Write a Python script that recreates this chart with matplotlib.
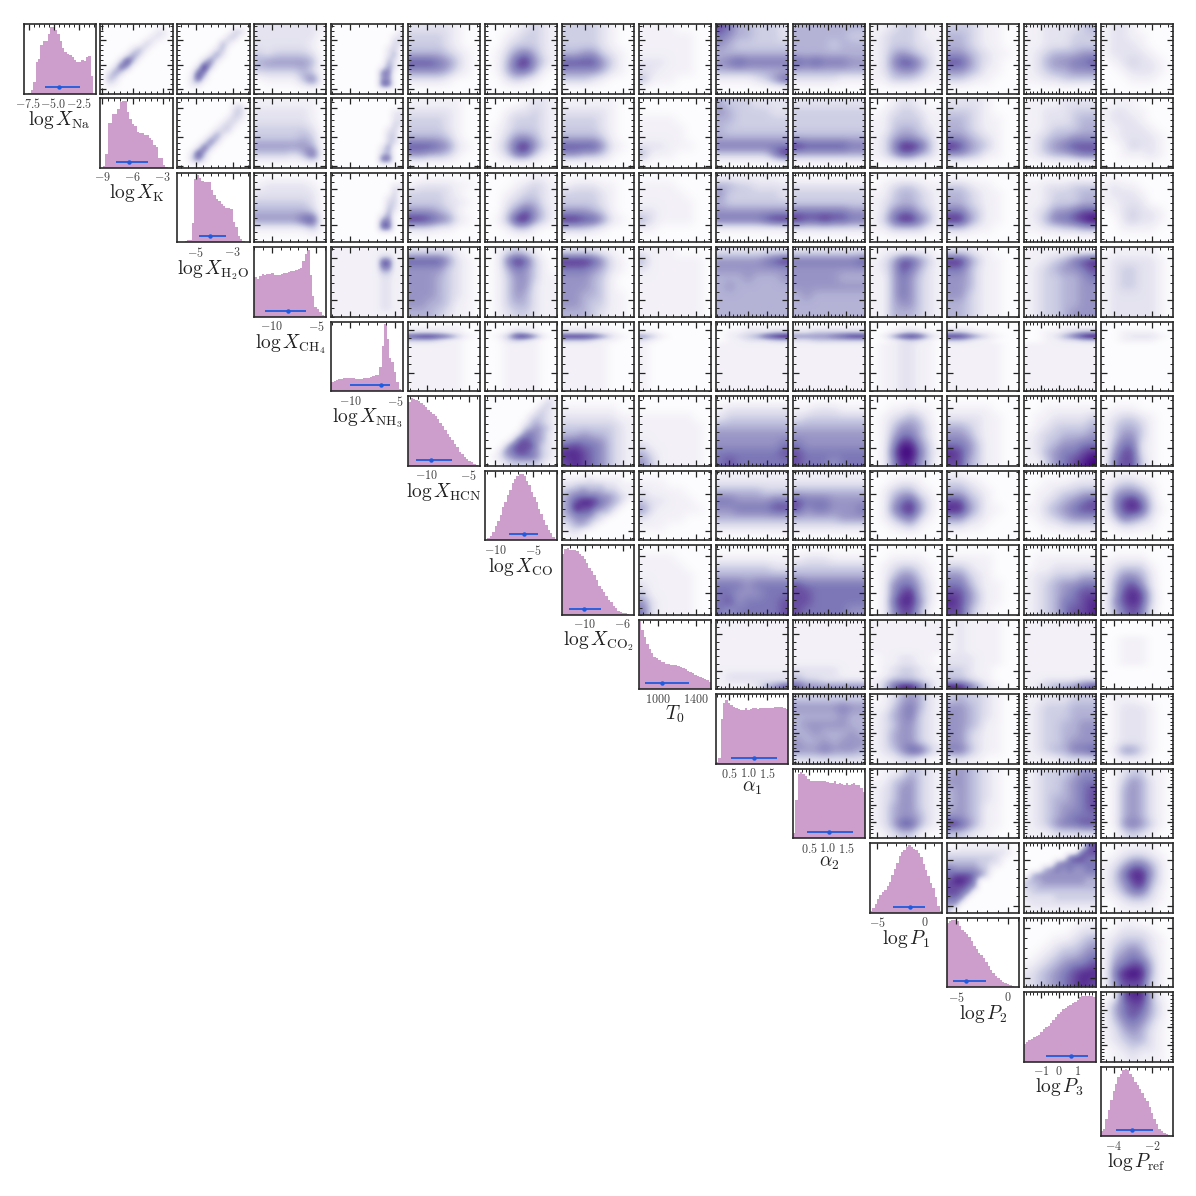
import numpy as np
import matplotlib
matplotlib.use("Agg")
import matplotlib.pyplot as plt
from matplotlib.ticker import AutoMinorLocator

plt.rcParams["mathtext.fontset"] = "cm"
plt.rcParams["font.family"] = "serif"

# === parameters ===
labels = [r"$\log X_{\rm Na}$", r"$\log X_{\rm K}$", r"$\log X_{\rm H_2O}$", r"$\log X_{\rm CH_4}$",
          r"$\log X_{\rm NH_3}$", r"$\log X_{\rm HCN}$", r"$\log X_{\rm CO}$", r"$\log X_{\rm CO_2}$",
          r"$T_0$", r"$\alpha_1$", r"$\alpha_2$", r"$\log P_1$", r"$\log P_2$", r"$\log P_3$",
          r"$\log P_{\rm ref}$"]
limits = [(-8.0, -0.8), (-9.2, -2.0), (-6.0, -2.1), (-12.0, -3.8), (-12.1, -4.1), (-12.2, -3.6),
          (-11.3, -1.9), (-12.4, -4.8), (800, 1560), (0.16, 2.04), (0.05, 2.02), (-5.8, 1.84),
          (-5.94, 1.06), (-1.93, 1.98), (-4.67, -0.96)]
ticks = [[-7.5, -5.0, -2.5], [-9, -6, -3], [-5, -3], [-10, -5], [-10, -5], [-10, -5], [-10, -5], [-10, -6],
         [1000, 1400], [0.5, 1.0, 1.5], [0.5, 1.0, 1.5], [-5, 0], [-5, 0], [-1, 0, 1], [-4, -2]]
tick_text = [["-7.5", "-5.0", "-2.5"], ["-9", "-6", "-3"], ["-5", "-3"], ["-10", "-5"], ["-10", "-5"],
             ["-10", "-5"], ["-10", "-5"], ["-10", "-6"], ["1000", "1400"], ["0.5", "1.0", "1.5"],
             ["0.5", "1.0", "1.5"], ["-5", "0"], ["-5", "0"], ["-1", "0", "1"], ["-4", "-2"]]

# 16th percentile, median, 84th percentile
ci_low = [-5.83, -7.67, -4.82, -10.75, -10.06, -11.3, -8.13, -11.66, 865, 0.55, 0.43, -3.37, -5.33, -0.69, -3.85]
ci_med = [-4.47, -6.4, -4.21, -8.2, -6.55, -9.44, -6.2, -10.08, 1047, 1.15, 1.04, -1.57, -4.04, 0.62, -3.03]
ci_high = [-2.4, -4.5, -3.36, -6.1, -5.55, -7.0, -4.47, -8.26, 1327, 1.75, 1.69, 0.08, -2.17, 1.58, -1.95]

# === histograms on the diagonal (height as fraction of the panel) ===
hist_na = [0, 0, .01, .05, .16, .45, .5, .7, .76, .76, .85, .95, .96, .92, .85, .75, .66, .6, .57, .55, .52, .48, .46, .46, .48, .47, .52, .54, .25, 0]
hist_k = [0, .03, .2, .65, .65, .78, .78, .85, .95, .97, .97, .8, .7, .63, .6, .52, .5, .5, .48, .47, .43, .4, .33, .3, .15, .15, .05, .01, 0, 0]
hist_h2o = [0, 0, 0, .02, .03, .03, .28, .92, .97, .93, .88, .87, .87, .87, .75, .68, .63, .6, .55, .53, .5, .5, .48, .3, .22, .1, .05, .02, 0, 0]
hist_ch4 = [.57, .55, .59, .62, .6, .62, .62, .63, .6, .61, .6, .62, .63, .63, .65, .66, .66, .68, .69, .7, .8, .9, .97, .6, .3, .15, .12, .07, .03, .01]
hist_nh3 = [.13, .15, .17, .18, .18, .19, .19, .19, .19, .19, .18, .18, .18, .19, .2, .2, .21, .22, .23, .24, .35, .65, .97, .75, .48, .42, .28, .14, .03, 0]
hist_hcn = [.92, .97, .96, .95, .93, .9, .88, .85, .8, .78, .75, .72, .68, .62, .58, .52, .46, .42, .37, .32, .27, .2, .17, .13, .1, .07, .05, .03, .01, 0]
hist_co = [.01, .03, .07, .12, .2, .28, .37, .48, .55, .65, .72, .82, .88, .93, .96, .95, .93, .85, .8, .7, .62, .55, .45, .38, .3, .22, .15, .1, .05, .02]
hist_co2 = [.88, .95, .96, .94, .94, .93, .92, .88, .85, .8, .75, .68, .63, .57, .5, .42, .37, .33, .27, .22, .18, .13, .1, .06, .04, .03, .02, .01, 0, 0]
hist_t0 = [.98, .85, .75, .65, .58, .52, .47, .45, .42, .4, .39, .37, .36, .35, .35, .35, .34, .32, .3, .29, .27, .25, .23, .21, .19, .18, .16, .15, .13, .1]
hist_a1 = [.03, .08, .65, .88, .92, .88, .84, .82, .8, .79, .78, .78, .8, .78, .79, .8, .8, .79, .8, .8, .81, .8, .8, .8, .82, .82, .82, .82, .81, .79]
hist_a2 = [.08, .55, .92, .95, .93, .9, .85, .82, .82, .83, .82, .82, .82, .82, .81, .8, .8, .82, .78, .8, .78, .76, .8, .76, .78, .79, .76, .76, .72, .66]
hist_p1 = [.03, .07, .13, .2, .25, .3, .33, .38, .45, .55, .63, .72, .82, .87, .9, .95, .97, .95, .92, .9, .86, .8, .7, .62, .53, .43, .35, .22, .1, .03]
hist_p2 = [.92, .96, .97, .97, .95, .88, .82, .8, .77, .72, .67, .6, .55, .5, .46, .42, .36, .3, .25, .2, .16, .13, .1, .08, .06, .04, .03, .02, .01, 0]
hist_p3 = [.25, .28, .31, .33, .36, .37, .39, .43, .47, .5, .52, .56, .6, .64, .68, .72, .76, .78, .8, .82, .85, .86, .89, .93, .95, .95, .95, .95, .94, .93]
hist_pref = [.08, .1, .25, .38, .52, .65, .75, .85, .9, .95, .97, .95, .9, .85, .78, .73, .68, .62, .55, .5, .42, .33, .25, .18, .11, .07, .05, .03, .02, .01]
hists = [hist_na, hist_k, hist_h2o, hist_ch4, hist_nh3, hist_hcn, hist_co, hist_co2, hist_t0, hist_a1, hist_a2,
         hist_p1, hist_p2, hist_p3, hist_pref]

# === 2d densities, digit 0-9, rows top to bottom, one dict per figure row, key = column ===
row_na = {
    1: "000000000000 000000000220 000000002210 000000032000 000002420000 000025300000 000384000000 002750000000 025300000000 043000000000 021000000000 000000000000",
    2: "000000000000 000000000330 000000003300 000000042000 000000240000 000002520000 000036200000 000294000000 001760000000 002820000000 002200000000 000000000000",
    3: "22222221 22222220 22222210 32333320 45555540 33333420 01111470 00000000",
    4: "000000000000 000000000002 000000000022 000000000032 000000000230 000000000240 000000000420 000000001520 000000006600 000000005500 000000007700 000000000000",
    5: "22222100 33332100 33332100 44443210 77765310 55554210 22221000 00000000",
    6: "00012321 00123321 00233321 01356421 01478531 01466410 00232100 00000000",
    7: "33332100 33332100 33332100 44553210 77775310 55554210 33321000 00000000",
    8: "11110000 11111100 11111100 11111100 22211100 22111100 41110000 00000000",
    9: "76443332 65443332 54333333 44444444 56766666 44444444 11112357 00000000",
    10: "44444444 44444433 44443444 44444444 76766655 44444444 22222111 00000000",
    11: "11233211 12333211 12333221 12454321 12577531 12455421 11333211 00000000",
    12: "33321100 44321100 44321100 55432110 77532100 55431100 33211000 00000000",
    13: "11222234 11222333 11222333 12344455 12455667 12344555 11223333 00000000",
    14: "12210000 12211000 12221000 12222100 01232210 00122210 00011100 00000000",
}
row_k = {
    2: "000000000000 000000000230 000000000330 000000002320 000000023200 000000233000 000002520000 000026300000 000273000000 002840000000 003620000000 000000000000",
    3: "11111110 22222210 22222210 33333320 33333430 55555540 33332480 00000000",
    4: "000000000000 000000000000 000000000022 000000000022 000000000032 000000000230 000000000330 000000000330 000000002500 000000003400 000000007700 000000000000",
    5: "11111100 22222100 33332100 33332100 44443100 77765210 55443100 00000000",
    6: "00001221 00122321 00233321 01233321 01355421 02478531 01366310 00000000",
    7: "11111100 22222100 33332100 33332100 44443100 77775210 55443100 00000000",
    8: "00000000 00000000 11110000 11111000 11111000 22211100 41110000 00000000",
    9: "43332222 54333322 44333333 43333333 44444444 66666666 33333368 00000000",
    10: "22222222 33333333 33333333 33333333 44444444 87777766 44444444 00000000",
    11: "00122100 01233211 11333311 11344321 12455431 12588741 12466431 00000000",
    12: "22221000 33321000 44321100 44321100 55432100 87543100 55431100 00000000",
    13: "11112222 11222333 11222344 11233344 12344555 12456777 12344566 00000000",
    14: "01110000 12211000 12221000 11222100 01222210 00132210 00111210 00000000",
}
row_h2o = {
    3: "00000000 12222210 22222220 33333320 44444430 55555780 11111130 00000000",
    4: "000000000000 000000000000 000000000022 000000000030 000000000230 000000000330 000000000420 000000002500 000000006600 000000007700 000000000000 000000000000",
    5: "00000000 12222110 33332100 33332210 55543100 88765210 22211000 00000000",
    6: "00000110 00012321 00123321 00234421 00357531 01488531 00133100 00000000",
    7: "00000000 12221100 33332100 33332100 55543100 88775210 33321000 00000000",
    8: "00000000 11110000 11111000 11111100 22111100 42111100 11000000 00000000",
    9: "11111110 44332222 53333332 43333333 55555555 66666788 11111111 00000000",
    10: "00000000 22222222 33333333 33333333 66666655 87787766 22222222 00000000",
    11: "00000000 01233211 11344321 12344321 12566431 13688641 11333311 00000000",
    12: "00000000 33211000 44321100 44321100 66431100 88531100 33211000 00000000",
    13: "00000000 11222333 11233344 11233344 12355677 12466789 11223344 00000000",
    14: "00000000 12110000 12221000 11222000 01232210 00232210 00111100 00000000",
}
row_ch4 = {
    4: "111111111111 111111112211 111111117711 111111116611 111111113311 111111112211 111111112211 111111112211 111111112211 111111112211 111111112211 111111111111",
    5: "22222100 77775210 55553210 55543210 55543210 55543210 55443110 44432110",
    6: "01232100 01687310 01465310 01355311 01355211 01354211 01344211 01233211",
    7: "22221100 88875210 66654210 55543100 55543100 55443110 55433110 44432110",
    8: "11110000 41111110 21111110 11111110 11111110 11111110 11111110 11111110",
    9: "22222222 55555678 55555555 44454445 45444444 44444444 44444444 44444444",
    10: "22222222 66666667 55555555 55555444 55555555 45444444 44444444 44444444",
    11: "01111110 12477531 12476421 11465321 11465321 11465321 11455321 11444321",
    12: "22211000 88531100 66421100 55421100 55421100 55321100 44321100 44321100",
    13: "11111111 11234678 12345567 12334456 12334455 12334455 12334455 12334555",
    14: "01111100 12222210 12332210 12332210 12332210 12222210 12222210 12222210",
}
row_nh3 = {
    5: "00000000 11111100 22221100 78876310 33321100 " + "11111100 " * 11,
    6: "00000000 00011100 00132100 01388510 00232100 " + "00111100 " * 11,
    7: "00000000 11111000 22221100 88875210 33321100 " + "11111000 " * 11,
    8: "00000000 00000000 11000000 53100000 21000000 " + "10000000 " * 11,
    9: "00000000 00011111 01122233 01234789 01122233 " + "11111111 " * 11,
    10: "00000000 11111111 22333333 55556788 22333333 " + "11111111 " * 11,
    11: "00000000 00011000 00123210 01478731 00123210 " + "01122110 " * 11,
    12: "00000000 11100000 33211000 88642100 33211000 " + "11111100 " * 11,
    13: "00000000 00001111 00112344 00124689 00112233 " + "11111111 " * 11,
    14: "00000000 00000000 00111100 00122210 00111100 " + "00000000 " * 11,
}
row_hcn = {
    6: "000000000021 000000000231 000000002321 000000023321 000000134321 000000345431 000002565421 000026765421 000367775321 002567765321 012456665321 001233333210",
    7: "00000000 11111100 22222211 33333321 44544321 67665321 88765321 78765321",
    8: "00000000 00000000 11111100 11111110 11111110 21111110 42111110 53111110",
    9: "00000000 12222222 23333333 44444444 55555555 55555556 66666667 67666666",
    10: "00000000 11222111 23333333 44444444 55555555 65555555 76666666 76665666",
    11: "00000000 00112110 01234310 01355420 01466420 01588530 01699631 01588530",
    12: "00000000 11111000 22221100 44321100 55421100 66531100 87531100 77431100",
    13: "00000000 00111111 01122223 01233334 12334445 12345566 12456678 11356789",
    14: "00000000 01110000 12332100 13443100 13553100 14662100 15772100 16773100",
}
row_co = {
    7: "000000000000 111121111100 223333322111 344544433211 456666554321 467887654310 468776543100 456664331000 345543200000 234431000000 122100000000 011000000000",
    8: "00000000 11100000 21111000 32211100 52111110 21111000 11100000 00000000",
    9: "11111111 22222222 44444333 66555566 55666677 44444444 22222222 00000000",
    10: "11111111 22222222 44444444 76665555 75665556 44444555 22222222 00000000",
    11: "00000000 00122100 01344210 01467420 01578520 01356310 00123100 00000000",
    12: "11000000 33210000 44321000 77431000 88531100 55321000 22110000 00000000",
    13: "00000011 00111222 01123344 01234567 11345677 01234555 00112222 00000000",
    14: "01110000 12332100 14554200 15786300 15787310 13654200 01221100 00000000",
}
row_co2 = {
    8: "00000000 11110000 11111000 11111100 21111100 31111100 52111100 62111100",
    9: "00000000 11111111 33333322 44444444 66656666 66555666 67566667 65666667",
    10: "00000000 12221111 33333333 44444444 76666666 77666666 77666666 76666655",
    11: "00000000 00111100 01233210 01355310 01566420 01578420 01688520 01577410",
    12: "00000000 11111000 33211000 55321000 66421100 77531100 87531100 77421000",
    13: "00000000 01111111 01122222 12233344 12345566 12345677 12346678 12346778",
    14: "00000000 01111000 12333100 13554200 14675200 14787300 15787300 14676200",
}
row_t0 = {
    9: "11111111 " * 9 + "12222222 12222222 11112457",
    10: "11111111 " * 8 + "22222111 32222111 43322222 75555555",
    11: "11111111 " * 6 + "01122110 01122110 01233211 01233211 12444321 13688631",
    12: "12111100 " * 6 + "22211100 22211100 33211000 33211000 44321000 88642100",
    13: "11111111 " * 10 + "11222233 12344567",
    14: "00000000 " * 3 + "00111000 " * 5 + "00000000 " * 4,
}
row_a1 = {
    10: "33333333 55555655 44444544 45555544 44544454 54454555 55565554 22222222",
    11: "01245421 11356421 12456321 12355321 12455321 12455321 12357742 01122100",
    12: "34332100 55432100 55432100 55431100 55321100 55321100 66421100 12110000",
    13: "11222333 12333444 12333444 12334455 12334455 12334555 12344667 11112222",
    14: "01110000 01222100 01222100 01222100 01222100 01222100 02553100 00111000",
}
row_a2 = {
    11: "01124321 11345321 12355321 12355321 12455321 12455421 12477421 01233100",
    12: "45432100 55432100 45432100 45432100 45431100 55431100 87531100 33211000",
    13: "12333455 12334566 12334567 12344567 12345567 12345666 12356677 11122222",
    14: "01233110 01354210 01454210 01454210 01454210 01454210 01565310 00232100",
}
row_p1 = {
    12: "001111111100 222222222210 333333332100 444443322000 655554310000 677765300000 788760000000 777650000000 776500000000 665000000000 550000000000 300000000000",
    13: "000000000067 000000000677 000000067766 000005666666 000456565566 045555555555 344555555544 334444444444 233333333333 222223333333 122222222222 111111111111",
    14: "00111100 01233210 12466420 13688520 13578420 12466310 01233210 00111100",
}
row_p2 = {
    13: "00000011 00000122 00011234 00123345 01234456 12345667 23456788 23456787",
    14: "00110000 01222100 12333210 13454210 14565310 15677410 16898410 15777310",
}
row_p3 = {
    14: "01788410 14677420 14676420 13565310 12454210 12344210 01232210 01121110",
}
density_rows = [row_na, row_k, row_h2o, row_ch4, row_nh3, row_hcn, row_co, row_co2, row_t0, row_a1, row_a2,
                row_p1, row_p2, row_p3]

# === figure ===
n = len(labels)
fig = plt.figure(figsize=(11.96, 11.96), dpi=100)


def make_axes(row, col):
    left = 23.5 + 76.93 * col
    top = 24.0 + 74.48 * row
    return fig.add_axes([left / 1196, 1 - (top + 69.5) / 1196, 72.2 / 1196, 69.5 / 1196])


def style_axes(ax):
    for spine in ax.spines.values():
        spine.set_linewidth(1.2)
        spine.set_color("#2a2a2a")
    ax.xaxis.set_minor_locator(AutoMinorLocator(5))
    ax.tick_params(which="both", direction="in", top=True, right=True, color="#222222")
    ax.tick_params(which="major", length=4, width=0.9)
    ax.tick_params(which="minor", length=2, width=0.7)


# diagonal
for i in range(n):
    ax = make_axes(i, i)
    edges = np.linspace(limits[i][0], limits[i][1], len(hists[i]) + 1)
    ax.stairs(hists[i], edges, fill=True, color="#cd9ecb", linewidth=0)
    ax.errorbar(ci_med[i], 0.088, xerr=[[ci_med[i] - ci_low[i]], [ci_high[i] - ci_med[i]]], fmt="o",
                color="#1f5be0", markersize=2.2, elinewidth=1.3, capsize=0)
    ax.set_xlim(limits[i])
    ax.set_ylim(0, 1)
    ax.set_xticks(ticks[i])
    ax.set_xticklabels(["$" + t + "$" for t in tick_text[i]], fontsize=8.7, color="#444444")
    ax.set_yticks([])
    ax.set_xlabel(labels[i], fontsize=14, labelpad=-1.5, color="#222222")
    style_axes(ax)
    ax.tick_params(which="both", bottom=False, left=False, right=False, pad=2.5)

# off-diagonal
for i, row in enumerate(density_rows):
    for j, text in row.items():
        ax = make_axes(i, j)
        grid = np.array([[int(c) for c in line] for line in text.split()], dtype=float)
        ax.imshow((grid / 9) ** 1.1, extent=[*limits[j], *limits[i]], origin="upper", aspect="auto",
                  cmap="Purples", vmin=0, vmax=1, interpolation="bicubic")
        ax.set_xlim(limits[j])
        ax.set_ylim(limits[i])
        ax.set_xticks(ticks[j])
        ax.set_yticks(ticks[i])
        ax.yaxis.set_minor_locator(AutoMinorLocator(5))
        style_axes(ax)
        ax.tick_params(which="both", labelbottom=False, labelleft=False)

fig.savefig("out.png", dpi=100)
